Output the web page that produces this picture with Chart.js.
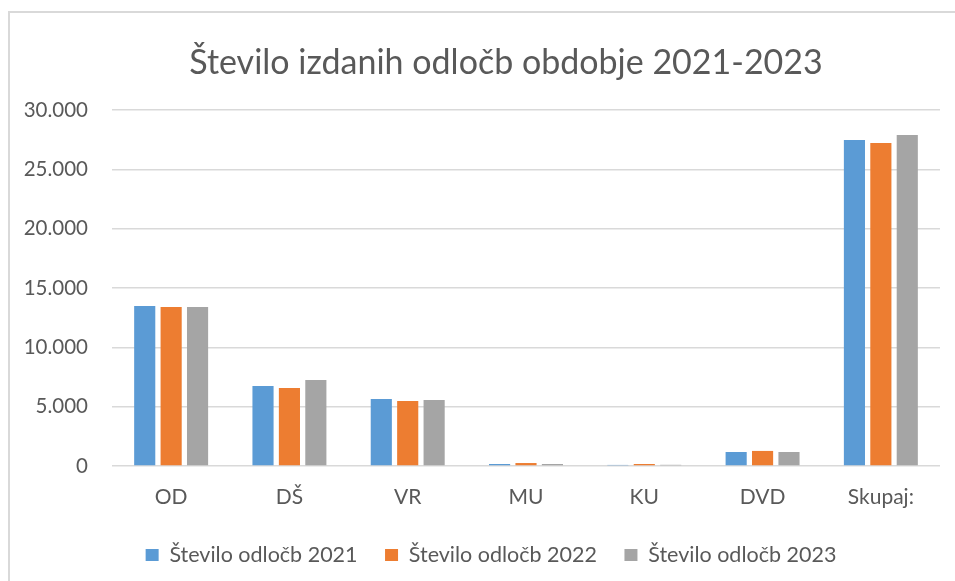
<!DOCTYPE html>
<html>
<head>
<meta charset="utf-8">
<script src="https://cdn.jsdelivr.net/npm/chart.js@4.4.1/dist/chart.umd.min.js"></script>
<style>
  html, body { margin: 0; padding: 0; background: #fff; overflow: hidden; }
  body { width: 955px; height: 581px; position: relative; }
  #frame { position: absolute; left: 8px; top: 11px; width: 1100px; height: 700px; border: 2px solid #d9d9d9; box-sizing: border-box; }
  #chart { position: absolute; left: 0; top: 0; }
</style>
</head>
<body>
<div id="frame"></div>
<canvas id="chart" width="955" height="581"></canvas>
<script>
// Število izdanih odločb 2021-2023
const categories = ['OD', 'DŠ', 'VR', 'MU', 'KU', 'DVD', 'Skupaj:']
const seriesNames = ['Število odločb 2021', 'Število odločb 2022', 'Število odločb 2023']
const odlocbe2021 = [13480, 6740, 5650, 170, 90, 1180, 27470]
const odlocbe2022 = [13400, 6570, 5480, 250, 170, 1270, 27220]
const odlocbe2023 = [13400, 7250, 5560, 170, 100, 1180, 27890]
const yTicks = [0, 5000, 10000, 15000, 20000, 25000, 30000]

const colors = ['#5B9BD5', '#ED7D31', '#A5A5A5']
const textColor = '#595959'
const font = 'Lato'

// 30000 -> "30.000"
const fmt = v => String(v).replace(/\B(?=(\d{3})+(?!\d))/g, '.')

// the title sits centred on the whole frame (part of it is off screen),
// the legend a bit to the left of that
const nudgeBlocks = {
  id: 'nudgeBlocks',
  afterLayout(chart) {
    chart.titleBlock.left += 31
    chart.titleBlock.right += 31
    chart.legend.left += 16
    chart.legend.right += 16
  },
}

const data = [odlocbe2021, odlocbe2022, odlocbe2023]

new Chart(document.getElementById('chart'), {
  type: 'bar',
  data: {
    labels: categories,
    datasets: data.map((d, i) => ({
      label: seriesNames[i],
      data: d,
      backgroundColor: colors[i],
      borderWidth: 0,
      categoryPercentage: 0.67,
      barPercentage: 0.8,
    })),
  },
  options: {
    responsive: false,
    animation: false,
    devicePixelRatio: 1,
    layout: { padding: { left: 10, right: 15, top: 0, bottom: 5.25 } },
    plugins: {
      title: {
        display: true,
        text: 'Število izdanih odločb obdobje 2021-2023',
        color: textColor,
        font: { family: font, size: 34, weight: 'normal' },
        padding: { top: 43, bottom: 26.2 },
      },
      legend: {
        position: 'bottom',
        labels: {
          color: textColor,
          font: { family: font, size: 21.5 },
          boxWidth: 13,
          boxHeight: 12,
          padding: 27.5,
        },
      },
      tooltip: { enabled: false },
    },
    scales: {
      x: {
        grid: { display: false },
        border: { display: false },
        ticks: { color: textColor, font: { family: font, size: 21 }, padding: 11, maxRotation: 0 },
        afterFit: s => { s.height = 50.75 },
      },
      y: {
        min: 0,
        max: 30000,
        afterBuildTicks: s => { s.ticks = yTicks.map(v => ({ value: v })) },
        grid: { color: '#d9d9d9', lineWidth: 1.5, drawTicks: false },
        border: { display: false },
        ticks: { color: textColor, font: { family: font, size: 20.5 }, padding: 24, callback: v => fmt(v) },
        afterFit: s => { s.width = 102 },
      },
    },
  },
  plugins: [nudgeBlocks],
})
</script>
</body>
</html>
